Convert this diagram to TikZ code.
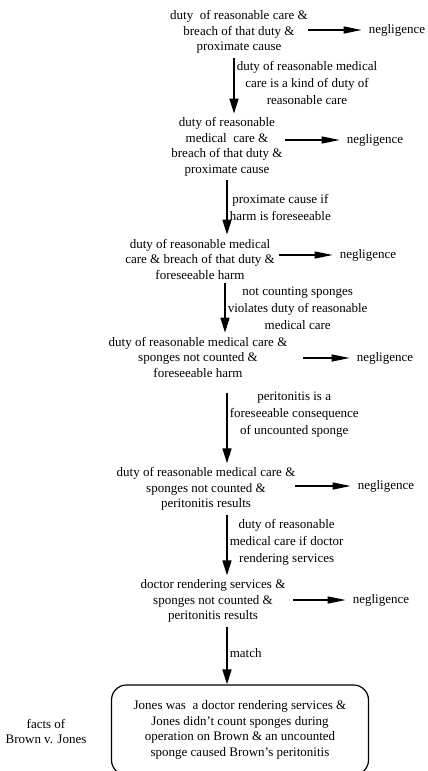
\documentclass[tikz,border=0pt]{standalone}
\usepackage{fontspec}
\setmainfont{Liberation Serif}
\usetikzlibrary{arrows.meta}
\usetikzlibrary{shapes}
\newcommand{\neglto}[4]{ \coordinate (s#1) at ( #2 , #3 ); \node[neg] (g#1) at ( #4 , #3 ) {negligence}; \draw[toneg] (s#1) -- (g#1);}
\tikzset{
  rulebox/.style={align=center, inner sep=4pt, font=\fontsize{13}{15.5}\selectfont},
  lbl/.style={align=center, anchor=west, inner sep=2pt, font=\fontsize{13}{17}\selectfont},
  neg/.style={inner xsep=7pt, font=\fontsize{13}{15.5}\selectfont},
  down/.style={line width=1.6pt, -{Triangle[length=15pt,width=9pt]}},
  toneg/.style={line width=1.2pt, -{Triangle[length=18pt,width=7pt]}},
  factbox/.style={draw, line width=1.2pt, rounded corners=15pt, minimum width=257pt, minimum height=90pt, align=center, font=\fontsize{13}{15.7}\selectfont}
}

\begin{document}
\begin{tikzpicture}[x=1pt,y=-1pt]
        \useasboundingbox (0,0) rectangle (428,771);
        \clip (0,0) rectangle (428,771);

        % rules
        \node[rulebox] (n1) at (239,32) {duty\ \ of reasonable care \&\\breach of that duty \&\\proximate cause};
        \node[rulebox] (n2) at (227,147) {duty of reasonable\\medical\ \ care \&\\breach of that duty \&\\proximate cause};
        \node[rulebox] (n3) at (200,259) {duty of reasonable medical\\care \& breach of that duty \&\\foreseeable harm};
        \node[rulebox] (n4) at (198,357) {duty of reasonable medical care \&\\sponges not counted \&\\foreseeable harm};
        \node[rulebox] (n5) at (206,489) {duty of reasonable medical care \&\\sponges not counted \&\\peritonitis results};
        \node[rulebox] (n6) at (213,601) {doctor rendering services \&\\sponges not counted \&\\peritonitis results};

        % negligence
        \neglto{1}{308}{30}{397}
        \neglto{2}{285}{140}{375}
        \neglto{3}{279}{255}{368}
        \neglto{4}{303}{358}{385}
        \neglto{5}{295}{486}{386}
        \neglto{6}{293}{600}{381}

        % facts
        \node[factbox] (facts) at (240,730) {Jones was\ \ a doctor rendering services \&\\Jones didn't count sponges during\\operation on Brown \& an uncounted\\sponge caused Brown's peritonitis};
        \node[rulebox, font=\fontsize{13}{15}\selectfont] (case) at (46,732) {facts of\\Brown v. Jones};

        % steps
        \coordinate (v1) at (234,0);
        \coordinate (v2) at (227,0);
        \coordinate (v3) at (225,0);
        \coordinate (v4) at (227,0);
        \coordinate (v5) at (227,0);
        \coordinate (v6) at (227,0);

        \draw[down] (n1.south -| v1) -- node[lbl, pos=0.45] {duty of reasonable medical\\care is a kind of duty of\\reasonable care} (n2.north -| v1);
        \draw[down] (n2.south -| v2) -- node[lbl] {proximate cause if\\harm is foreseeable} (n3.north -| v2);
        \draw[down] (n3.south -| v3) -- node[lbl] {not counting sponges\\violates duty of reasonable\\medical care} (n4.north -| v3);
        \draw[down, shorten <=12pt] (n4.south -| v4) -- node[lbl, pos=0.4] {peritonitis is a\\foreseeable consequence\\of uncounted sponge} (n5.north -| v4);
        \draw[down] (n5.south -| v5) -- node[lbl, pos=0.45] {duty of reasonable\\medical care if doctor\\rendering services} (n6.north -| v5);
        \draw[down] (n6.south -| v6) -- node[lbl, pos=0.45] {match} (facts.north -| v6);

    \end{tikzpicture}
\end{document}
